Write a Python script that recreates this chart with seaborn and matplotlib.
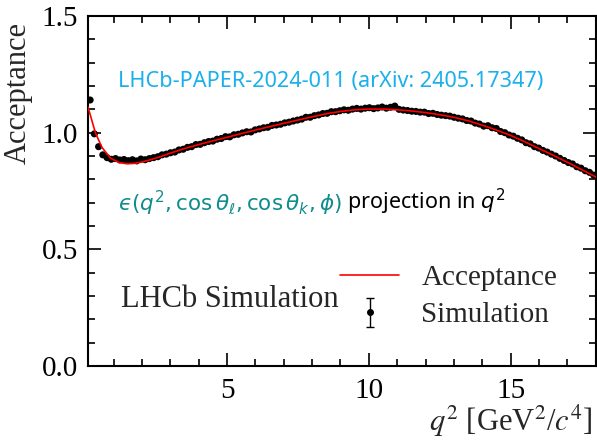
import numpy as np
import pandas as pd
import matplotlib
matplotlib.use("Agg")
import matplotlib.pyplot as plt
from matplotlib.lines import Line2D
import seaborn as sns

# ---- data ----
q2_lo, q2_hi, n_bins = 0.1, 18.0, 120
sim_acc = [
    1.140, 0.995, 0.940, 0.905, 0.893, 0.886, 0.889, 0.883, 0.885, 0.880,
    0.884, 0.879, 0.887, 0.884, 0.889, 0.893, 0.897, 0.905, 0.908, 0.914,
    0.917, 0.926, 0.929, 0.937, 0.940, 0.949, 0.950, 0.957, 0.962, 0.964,
    0.972, 0.975, 0.983, 0.982, 0.991, 0.993, 0.999, 1.004, 1.003, 1.012,
    1.016, 1.021, 1.023, 1.031, 1.033, 1.036, 1.042, 1.045, 1.050, 1.054,
    1.058, 1.066, 1.066, 1.073, 1.076, 1.082, 1.083, 1.090, 1.090, 1.094,
    1.098, 1.096, 1.101, 1.104, 1.101, 1.105, 1.107, 1.103, 1.106, 1.110,
    1.105, 1.109, 1.114, 1.100, 1.097, 1.095, 1.092, 1.091, 1.088, 1.088,
    1.082, 1.083, 1.078, 1.075, 1.073, 1.071, 1.066, 1.062, 1.059, 1.052,
    1.050, 1.041, 1.037, 1.028, 1.030, 1.021, 1.018, 1.005, 1.000, 0.990,
    0.985, 0.976, 0.969, 0.957, 0.952, 0.940, 0.934, 0.924, 0.917, 0.908,
    0.900, 0.890, 0.881, 0.872, 0.866, 0.854, 0.848, 0.837, 0.830, 0.818,
]
curve_q2 = [0.1, 0.36, 0.59, 0.9, 1.2, 1.45, 1.7, 2.0, 2.3, 2.6, 3.0, 3.5, 4.0,
            4.5, 5.0, 5.5, 6.0, 6.5, 7.0, 7.5, 8.0, 8.5, 9.0, 9.5, 10.0, 10.5,
            11.0, 11.5, 12.0, 12.5, 13.0, 13.5, 14.0, 14.5, 15.0, 15.5, 16.0,
            16.5, 17.0, 17.5, 18.0]
curve_acc = [1.11, 1.0, 0.937, 0.89, 0.872, 0.867, 0.868, 0.874, 0.884, 0.895,
             0.912, 0.932, 0.949, 0.965, 0.98, 0.996, 1.011, 1.026, 1.04, 1.054,
             1.068, 1.081, 1.091, 1.098, 1.101, 1.101, 1.098, 1.093, 1.086,
             1.077, 1.066, 1.051, 1.032, 1.011, 0.988, 0.961, 0.932, 0.903,
             0.873, 0.842, 0.81]

edges = np.linspace(q2_lo, q2_hi, n_bins + 1)
centers = 0.5 * (edges[1:] + edges[:-1])
df_pts = pd.DataFrame({"q2": centers, "acc": sim_acc})
df_cur = pd.DataFrame({"q2": curve_q2, "acc": curve_acc})

# ---- style ----
sns.set_theme(style="ticks")
plt.rcParams["font.family"] = ["Liberation Serif", "DejaVu Serif"]
plt.rcParams["mathtext.fontset"] = "stix"

fig = plt.figure(figsize=(5.97, 4.40), dpi=100)
ax = fig.add_axes([0.1474, 0.1682, 0.998 - 0.1474, 0.9636 - 0.1682])

sns.scatterplot(data=df_pts, x="q2", y="acc", ax=ax, color="black", s=26,
                edgecolor="none", zorder=2, legend=False)
sns.lineplot(data=df_cur, x="q2", y="acc", ax=ax, color="red", lw=1.2,
             zorder=3, legend=False)

ax.set_xlim(q2_lo, q2_hi)
ax.set_ylim(0.0, 1.5)
ax.set_xticks([5, 10, 15])
ax.set_xticks(np.arange(1, 18, 1), minor=True)
ax.set_yticks([0.0, 0.5, 1.0, 1.5])
ax.set_yticks(np.arange(0, 1.51, 0.1), minor=True)
ax.set_yticklabels(["0.0", "0.5", "1.0", "1.5"])
ax.tick_params(which="both", direction="in", top=True, right=True,
               labelsize=21, width=1.2, colors="black")
ax.tick_params(which="major", length=9.5, pad=7)
ax.tick_params(axis="x", which="major", pad=9)
ax.tick_params(which="minor", length=5)
for s in ax.spines.values():
    s.set_linewidth(1.5)
    s.set_color("black")
ax.set_xlabel("")
ax.set_ylabel("")

fig.text(18 / 597, 1 - 93 / 440, "Acceptance", rotation=90, ha="center",
         va="center", fontsize=22)
fig.text(0.992, 1 - 421 / 440, r"$q^2$ [GeV$^2$/$c^4$]", ha="right",
         va="center", fontsize=22)

ax.text(1.15, 1.22, "LHCb-PAPER-2024-011 (arXiv: 2405.17347)",
        color="#1ab0ea", fontsize=15.6, family=["Noto Sans", "DejaVu Sans"],
        va="center", ha="left")
t1 = ax.text(1.15, 0.70, "$\u03f5(q^2, \\cos\\theta_\\ell, \\cos\\theta_k, \\phi)$",
             color="#0f8c8c", fontsize=15.5, family=["Noto Sans", "DejaVu Sans"],
             math_fontfamily="dejavusans", va="center", ha="left")
ax.annotate(r" projection in $q^2$", xy=(1.0, 0.0), xycoords=t1,
            ha="left", va="bottom", fontsize=15.5, color="black",
            family=["Noto Sans", "DejaVu Sans"], math_fontfamily="dejavusans")

ax.text(1.28, 0.285, "LHCb Simulation", fontsize=22, va="center", ha="left")

h_line = Line2D([], [], color="red", lw=1.2)
h_err = ax.errorbar([np.nan], [np.nan], yerr=[0.1], fmt="o", color="black",
                    ms=4, capsize=3, elinewidth=1.0)
ax.legend([h_line, h_err], ["Acceptance", "Simulation"], loc="upper left",
          bbox_to_anchor=(0.497, 0.29), frameon=False, fontsize=21,
          handlelength=2.0, handletextpad=0.78, labelspacing=0.38,
          borderpad=0.0, borderaxespad=0.0)

fig.savefig("out.png", dpi=100)
